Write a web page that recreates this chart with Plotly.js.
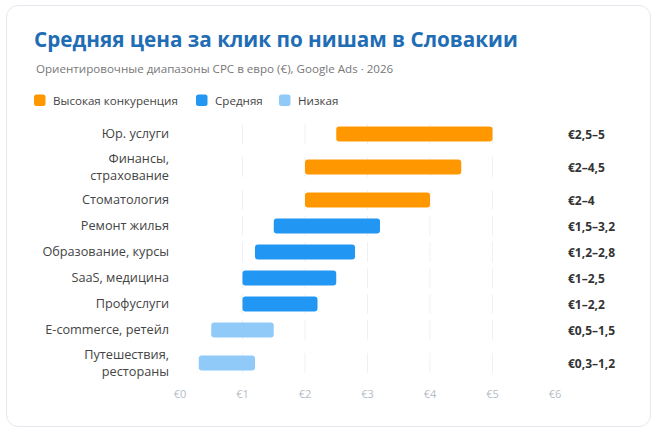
<!DOCTYPE html>
<html>
<head>
<meta charset="utf-8">
<script src="https://cdn.plot.ly/plotly-3.0.1.min.js"></script>
<style>
  html, body { margin: 0; padding: 0; background: #ffffff; }
  #card { position: absolute; left: 6px; top: 5px; width: 645px; height: 422px;
          border: 1px solid #e3e8ef; border-radius: 12px; background: #ffffff; box-sizing: border-box; }
  #chart { position: absolute; left: 0; top: 0; width: 659px; height: 435px; }
</style>
</head>
<body>
<div id="card"></div>
<div id="chart"></div>
<script>
// ---- Data ----
const categories = ["Юр. услуги", "Финансы,<br>страхование", "Стоматология", "Ремонт жилья",
  "Образование, курсы", "SaaS, медицина", "Профуслуги", "E-commerce, ретейл", "Путешествия,<br>рестораны"];
const lowCPC  = [2.5, 2, 2, 1.5, 1.2, 1, 1, 0.5, 0.3];
const highCPC = [5, 4.5, 4, 3.2, 2.8, 2.5, 2.2, 1.5, 1.2];
const tiers   = ["high", "high", "high", "mid", "mid", "mid", "mid", "low", "low"];
const tierNames  = ["Высокая конкуренция", "Средняя", "Низкая"];
const tierKeys   = ["high", "mid", "low"];
const xTickVals  = [0, 1, 2, 3, 4, 5, 6];
const titleText    = "Средняя цена за клик по нишам в Словакии";
const subtitleText = "Ориентировочные диапазоны CPC в евро (€), Google Ads · 2026";

// ---- Styling / layout ----
const W = 659, H = 435;
const M = { l: 180, r: 104, t: 119, b: 50 };
const PW = W - M.l - M.r, PH = H - M.t - M.b;
const px2x = px => (px - M.l) / PW;          // pixel -> paper x
const py2y = py => (H - M.b - py) / PH;      // pixel -> paper y
const tierColors = { high: "#FF9800", mid: "#2196F3", low: "#90CAF9" };
const FONT = "'Open Sans', 'Noto Sans', sans-serif";

// Row positions derived from label line counts (two-line labels take taller rows)
const rowCenters = [];
let cursor = 0;
categories.forEach(c => {
  const lines = c.split("<br>").length;
  const h = lines > 1 ? 34 : 20;
  rowCenters.push(cursor + h / 2);
  cursor += h + 6;
});
const totalH = cursor - 6;

const fmt = v => String(v).replace(".", ",");

const traces = tierKeys.map((key, ti) => {
  const idx = tiers.map((t, i) => t === key ? i : -1).filter(i => i >= 0);
  return {
    type: "bar",
    orientation: "h",
    name: tierNames[ti],
    y: idx.map(i => rowCenters[i]),
    base: idx.map(i => lowCPC[i]),
    x: idx.map(i => highCPC[i] - lowCPC[i]),
    width: 15,
    marker: { color: tierColors[key], cornerradius: 3 },
    showlegend: false,
    hoverinfo: "skip"
  };
});

const shapes = [];
rowCenters.forEach(c => {
  [1, 2, 3, 4, 5].forEach(k => {
    shapes.push({ type: "line", xref: "x", yref: "y", x0: k, x1: k, y0: c - 10, y1: c + 10,
      line: { color: "#edf1f6", width: 1 }, layer: "below" });
  });
});

const annotations = categories.map((c, i) => ({
  xref: "paper", yref: "y", x: 1, y: rowCenters[i], xanchor: "left", yanchor: "middle",
  xshift: 11, showarrow: false,
  text: "<b>€" + fmt(lowCPC[i]) + "–" + fmt(highCPC[i]) + "</b>",
  font: { family: FONT, size: 12, color: "#333333" }
}));

// Subtitle
annotations.push({
  xref: "paper", yref: "paper", x: px2x(34), y: py2y(69), xanchor: "left", yanchor: "middle",
  showarrow: false, text: subtitleText,
  font: { family: FONT, size: 11.6, color: "#777777" }
});

// Custom legend (rounded swatch + label), laid out left to right
const legendStarts = [34, 196, 279];
tierKeys.forEach((key, ti) => {
  const x0 = legendStarts[ti], y0 = 94.5, s = 11.5, r = 2.5;
  const X = v => px2x(v), Y = v => py2y(v);
  const path = `M ${X(x0 + r)} ${Y(y0)} L ${X(x0 + s - r)} ${Y(y0)} Q ${X(x0 + s)} ${Y(y0)} ${X(x0 + s)} ${Y(y0 + r)} ` +
    `L ${X(x0 + s)} ${Y(y0 + s - r)} Q ${X(x0 + s)} ${Y(y0 + s)} ${X(x0 + s - r)} ${Y(y0 + s)} ` +
    `L ${X(x0 + r)} ${Y(y0 + s)} Q ${X(x0)} ${Y(y0 + s)} ${X(x0)} ${Y(y0 + s - r)} ` +
    `L ${X(x0)} ${Y(y0 + r)} Q ${X(x0)} ${Y(y0)} ${X(x0 + r)} ${Y(y0)} Z`;
  shapes.push({ type: "path", xref: "paper", yref: "paper", path: path,
    fillcolor: tierColors[key], line: { width: 0 } });
  annotations.push({
    xref: "paper", yref: "paper", x: px2x(x0 + 17), y: py2y(100.5), xanchor: "left", yanchor: "middle",
    showarrow: false, text: tierNames[ti],
    font: { family: FONT, size: 11.6, color: "#444444" }
  });
});

const layout = {
  width: W, height: H,
  paper_bgcolor: "rgba(0,0,0,0)", plot_bgcolor: "rgba(0,0,0,0)",
  margin: M,
  font: { family: FONT },
  title: {
    text: "<b>" + titleText + "</b>",
    font: { family: FONT, size: 20.7, color: "#1f6db5" },
    xref: "container", x: 34 / W, xanchor: "left",
    yref: "container", y: 1 - 33 / H, yanchor: "top"
  },
  showlegend: false,
  barmode: "overlay",
  xaxis: {
    range: [0, 6], tickvals: xTickVals, ticktext: xTickVals.map(v => "€" + v),
    showgrid: false, zeroline: false, showline: false, ticks: "",
    ticklabelstandoff: 1,
    tickfont: { family: FONT, size: 11, color: "#b3bcc7" }, fixedrange: true
  },
  yaxis: {
    range: [totalH + 5, -5], tickvals: rowCenters, ticktext: categories,
    showgrid: false, zeroline: false, showline: false, ticks: "",
    ticklabelstandoff: 10,
    tickfont: { family: FONT, size: 12.7, color: "#444444" }, fixedrange: true
  },
  shapes: shapes,
  annotations: annotations
};

Plotly.newPlot("chart", traces, layout, { displayModeBar: false, staticPlot: true });
</script>
</body>
</html>
